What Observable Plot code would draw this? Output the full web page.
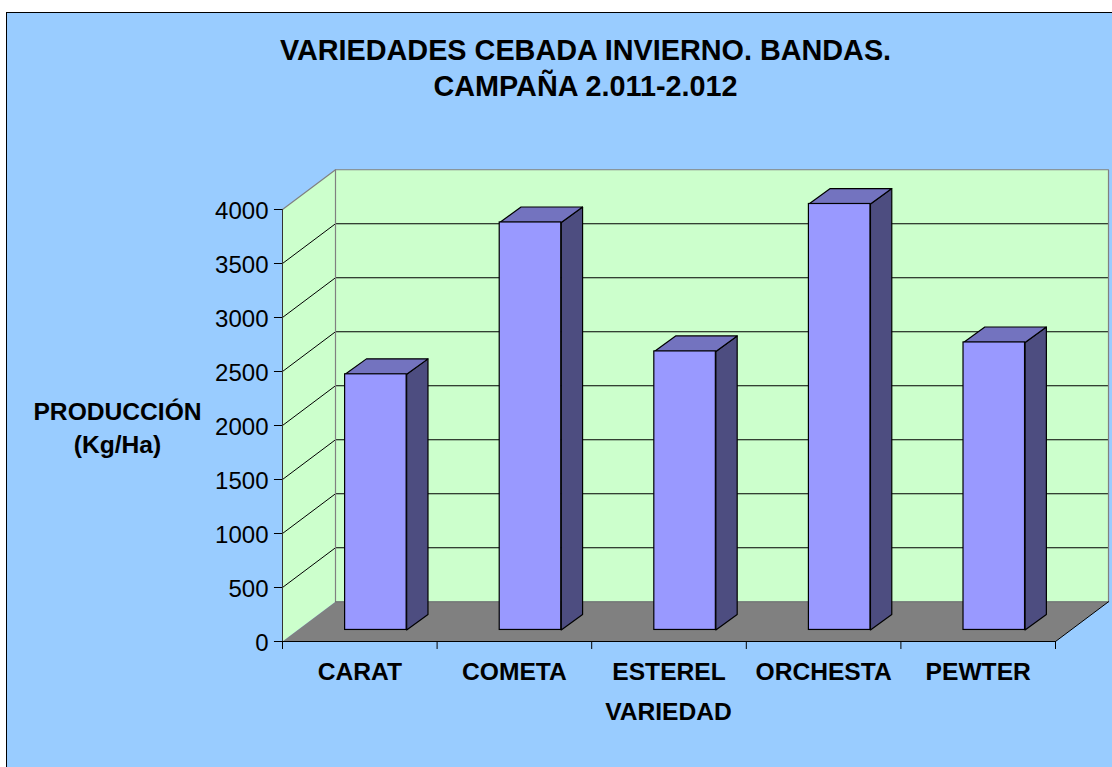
<!DOCTYPE html>
<html>
<head>
<meta charset="utf-8">
<script src="https://cdn.jsdelivr.net/npm/d3@7"></script>
<script src="https://cdn.jsdelivr.net/npm/@observablehq/plot@0.6"></script>
<style>
html,body{margin:0;padding:0;background:#fff;overflow:hidden;width:1112px;height:767px}
#panel{position:absolute;left:6px;top:12px;width:1120px;height:770px;border:1px solid #000;background:#99CCFF}
#chart{position:absolute;left:0;top:0}
svg{display:block}
</style>
</head>
<body>
<div id="panel"></div>
<div id="chart"></div>
<script>
const categories = ["CARAT", "COMETA", "ESTEREL", "ORCHESTA", "PEWTER"];
const values = [2367, 3773, 2579, 3944, 2662];
const yTicks = [0, 500, 1000, 1500, 2000, 2500, 3000, 3500, 4000];
const xEdges = [0, 1, 2, 3, 4, 5];
const titleText = "VARIEDADES CEBADA INVIERNO. BANDAS.\nCAMPAÑA 2.011-2.012";
const yLabelText = "PRODUCCIÓN\n(Kg/Ha)";
const xLabelText = "VARIEDAD";

// 3D projection expressed in scale units
const wallDX = 0.3428, wallDY = 368;       // full depth of the floor
const barDX = 0.138, barDY = 143;          // depth of a bar
const liftX = 0.104, liftY = 107;          // bar's front offset from the front edge
const barW = 0.398;
const tickLen = 74;

const poly = (id, pts) => pts.map(([x, y]) => ({id, x, y}));
const walls = [
  ...poly("left", [[0,0],[wallDX,wallDY],[wallDX,4000+wallDY],[0,4000],[0,0]]),
  ...poly("back", [[wallDX,wallDY],[5+wallDX,wallDY],[5+wallDX,4000+wallDY],[wallDX,4000+wallDY],[wallDX,wallDY]])
];
const floor = poly("floor", [[0,0],[5,0],[5+wallDX,wallDY],[wallDX,wallDY],[0,0]]);
const gridLines = yTicks.slice(1, -1).flatMap(v => poly("g"+v, [[0,v],[wallDX,v+wallDY],[5+wallDX,v+wallDY]]));
const topGrid = yTicks.slice(-1).flatMap(v => poly("t", [[0,v],[wallDX,v+wallDY],[5+wallDX,v+wallDY],[5+wallDX,wallDY]]));
const bars = categories.map((c, i) => {
  const x1 = i + 0.5 + liftX - barW / 2, x2 = x1 + barW;
  return {c, x1, x2, y1: liftY, y2: liftY + values[i]};
});
const sides = bars.flatMap(b => poly("s"+b.c, [[b.x2,b.y1],[b.x2+barDX,b.y1+barDY],[b.x2+barDX,b.y2+barDY],[b.x2,b.y2],[b.x2,b.y1]]));
const tops = bars.flatMap(b => poly("t"+b.c, [[b.x1,b.y2],[b.x2,b.y2],[b.x2+barDX,b.y2+barDY],[b.x1+barDX,b.y2+barDY],[b.x1,b.y2]]));

const lineOpts = {x: "x", y: "y", z: "id", curve: "linear"};
const FONT = "Liberation Sans, Arial, sans-serif";

const plot = Plot.plot({
  width: 1112, height: 767,
  marginLeft: 282, marginRight: 57, marginTop: 209, marginBottom: 126,
  style: {background: "transparent", fontFamily: FONT, overflow: "visible"},
  x: {domain: [0, 5], axis: null},
  y: {domain: [0, 4000], axis: null},
  marks: [
    Plot.line(walls, {...lineOpts, fill: "#CCFFCC", stroke: "none"}),
    Plot.line(floor, {...lineOpts, fill: "#808080", stroke: "none"}),
    Plot.line(gridLines, {...lineOpts, stroke: "#000", strokeWidth: 1}),
    Plot.line(topGrid, {...lineOpts, stroke: "#808080", strokeWidth: 1.2}),
    Plot.line(poly("bk", [[wallDX,wallDY],[wallDX,4000+wallDY]]), {...lineOpts, stroke: "#808080", strokeWidth: 1.2}),
    Plot.line(poly("bb", [[wallDX,wallDY],[5+wallDX,wallDY]]), {...lineOpts, stroke: "#6a6a6a", strokeWidth: 1}),
    Plot.line(poly("fr", [[0,0],[5,0],[5+wallDX,wallDY]]), {...lineOpts, stroke: "#000", strokeWidth: 1}),
    Plot.line(sides, {...lineOpts, fill: "#4D4D80", stroke: "#000", strokeWidth: 1.2, strokeLinejoin: "round"}),
    Plot.line(tops, {...lineOpts, fill: "#7373BF", stroke: "#000", strokeWidth: 1.2, strokeLinejoin: "round"}),
    Plot.rect(bars, {x1: "x1", x2: "x2", y1: "y1", y2: "y2", fill: "#9999FF", stroke: "#000", strokeWidth: 1.2}),
    Plot.ruleY(yTicks, {x1: -0.052, x2: 0, stroke: "#000"}),
    Plot.text(yTicks, {x: 0, y: d => d, text: d => String(d), dx: -14, dy: 2, textAnchor: "end", fontSize: 24, fill: "#000"}),
    Plot.ruleX([0], {y1: -tickLen, y2: 4000, stroke: "#333"}),
    Plot.ruleX(xEdges, {y1: -tickLen, y2: 0, stroke: "#000"}),
    Plot.text(categories, {x: (c, i) => i + 0.5, y: 0, dy: 31, text: c => c, textAnchor: "middle", fontSize: 24.6, fontWeight: "bold", fill: "#000"}),
    Plot.text([titleText], {frameAnchor: "top-left", dx: 303, dy: -143, lineHeight: 1.24, textAnchor: "middle", lineAnchor: "middle", fontSize: 28.8, fontWeight: "bold", fill: "#000"}),
    Plot.text([yLabelText], {frameAnchor: "top-left", dx: -165, dy: 216.5, lineHeight: 1.32, textAnchor: "middle", lineAnchor: "middle", fontSize: 24.6, fontWeight: "bold", fill: "#000"}),
    Plot.text([xLabelText], {frameAnchor: "bottom-left", dx: 386, dy: 71, textAnchor: "middle", lineAnchor: "middle", fontSize: 24.6, fontWeight: "bold", fill: "#000"})
  ]
});
document.getElementById("chart").appendChild(plot);
</script>
</body>
</html>
